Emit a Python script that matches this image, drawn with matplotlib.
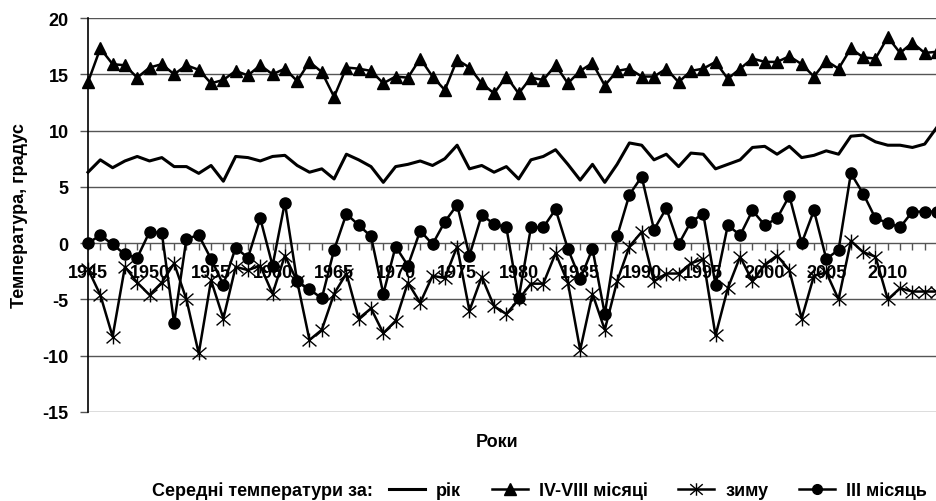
import numpy as np
import matplotlib
matplotlib.use('Agg')
import matplotlib.pyplot as plt
from matplotlib.path import Path
from matplotlib.lines import Line2D

plt.rcParams['font.family'] = ['Liberation Sans', 'DejaVu Sans']
plt.rcParams['font.weight'] = 'bold'
plt.rcParams['axes.unicode_minus'] = False

years = list(range(1945, 2015))

# середня за рік
rik = [6.3, 7.4, 6.7, 7.3, 7.7, 7.3, 7.6, 6.8, 6.8, 6.2,
       6.9, 5.5, 7.7, 7.6, 7.3, 7.7, 7.8, 6.9, 6.3, 6.6,
       5.7, 7.9, 7.4, 6.8, 5.4, 6.8, 7.0, 7.3, 6.9, 7.5,
       8.7, 6.6, 6.9, 6.3, 6.8, 5.7, 7.4, 7.7, 8.3, 7.0,
       5.6, 7.0, 5.4, 7.0, 8.9, 8.7, 7.4, 7.9, 6.8, 8.0,
       7.9, 6.6, 7.0, 7.4, 8.5, 8.6, 7.9, 8.6, 7.6, 7.8,
       8.2, 7.9, 9.5, 9.6, 9.0, 8.7, 8.7, 8.5, 8.8, 10.3]

# IV-VIII місяці
lito = [14.3, 17.3, 15.9, 15.8, 14.7, 15.6, 15.9, 15.0, 15.8, 15.4,
        14.2, 14.5, 15.3, 14.9, 15.8, 15.0, 15.5, 14.4, 16.1, 15.2,
        13.0, 15.6, 15.5, 15.3, 14.2, 14.8, 14.7, 16.4, 14.8, 13.6,
        16.3, 15.6, 14.2, 13.3, 14.8, 13.3, 14.7, 14.5, 15.8, 14.2,
        15.3, 16.0, 14.0, 15.3, 15.5, 14.8, 14.8, 15.5, 14.3, 15.3,
        15.5, 16.1, 14.6, 15.5, 16.4, 16.1, 16.1, 16.6, 15.9, 14.8,
        16.2, 15.5, 17.3, 16.5, 16.4, 18.3, 16.9, 17.8, 16.9, 17.0]

# зима
zyma = [-2.3, -4.6, -8.3, -2.1, -3.5, -4.6, -3.5, -1.8, -5.0, -9.8,
        -3.3, -6.7, -2.1, -2.4, -2.0, -4.5, -1.1, -3.4, -8.6, -7.7,
        -4.5, -2.7, -6.7, -5.8, -8.0, -6.9, -3.5, -5.3, -2.9, -3.1,
        -0.3, -6.0, -3.0, -5.6, -6.3, -5.0, -3.6, -3.6, -0.9, -3.5,
        -9.5, -4.5, -7.7, -3.4, -0.3, 1.0, -3.4, -2.7, -2.7, -1.8,
        -1.4, -8.2, -4.0, -1.2, -3.4, -1.9, -1.1, -2.4, -6.7, -2.9,
        -2.6, -5.0, 0.2, -0.8, -1.2, -5.0, -4.0, -4.3, -4.3, -4.3]

# III місяць
berezen = [0.0, 0.7, -0.1, -1.0, -1.3, 1.0, 0.9, -7.1, 0.4, 0.7,
           -1.4, -3.7, -0.4, -1.3, 2.2, -2.0, 3.6, -3.4, -4.1, -4.9,
           -0.6, 2.6, 1.6, 0.6, -4.5, -0.3, -2.0, 1.1, -0.1, 1.9,
           3.4, -1.1, 2.5, 1.7, 1.4, -4.9, 1.4, 1.4, 3.0, -0.5,
           -3.2, -0.5, -6.3, 0.6, 4.3, 5.9, 1.2, 3.1, -0.1, 1.9,
           2.6, -3.7, 1.6, 0.7, 2.9, 1.6, 2.2, 4.2, 0.0, 2.9,
           -1.4, -0.6, 6.2, 4.4, 2.2, 1.8, 1.4, 2.8, 2.8, 2.8]

# маркер "зірочка" як в Excel
star = Path([(-1, -0.85), (1, 0.85), (-1, 0.85), (1, -0.85), (0, -1), (0, 1)],
            [Path.MOVETO, Path.LINETO, Path.MOVETO, Path.LINETO, Path.MOVETO, Path.LINETO])

FS = 13

fig = plt.figure(figsize=(9.37, 5.02), dpi=100)
ax = fig.add_axes([88/937, 1-413/502, 1-88/937, (413-19)/502])

ax.plot(years, rik, color='black', lw=2.2, clip_on=False, zorder=3)
ax.plot(years, lito, color='black', lw=1.8, marker='^', ms=9, clip_on=False, zorder=3)
ax.plot(years, zyma, color='black', lw=1.8, marker=star, ms=10, mew=1.0,
        mfc='none', clip_on=False, zorder=3)
ax.plot(years, berezen, color='black', lw=1.8, marker='o', ms=8, clip_on=False, zorder=3)

ax.set_xlim(1945, 1945 + (937-88)/12.35)
ax.set_ylim(-15, 20)
ax.set_yticks(range(-15, 21, 5))
for v in range(-15, 21, 5):
    if v != 0:
        ax.axhline(v, color='#555555', lw=1.0, zorder=1)

ax.spines['top'].set_visible(False)
ax.spines['right'].set_visible(False)
ax.spines['left'].set_color('black')
ax.spines['left'].set_linewidth(1.2)
ax.spines['bottom'].set_position(('data', 0))
ax.spines['bottom'].set_color('#555555')
ax.spines['bottom'].set_linewidth(1.0)

ax.set_xticks(years)
ax.set_xticklabels([str(y) if y % 5 == 0 else '' for y in years])
ax.tick_params(axis='x', direction='out', length=5, width=1, color='#555555',
               labelsize=FS, pad=10)
ax.tick_params(axis='y', direction='out', length=6, width=1, color='#555555',
               labelsize=FS, pad=8)
for lab in ax.get_xticklabels() + ax.get_yticklabels():
    lab.set_fontweight('bold')

fig.text(20/937, 1-216/502, 'Температура, градус', rotation=90, ha='center',
         va='center', fontsize=FS, fontweight='bold')
fig.text(497/937, 1-443/502, 'Роки', ha='center', va='center',
         fontsize=FS, fontweight='bold')

t = fig.text(152/937, 1-491/502, 'Середні температури за:', ha='left', va='center',
             fontsize=FS, fontweight='bold')
fig.canvas.draw()
bb = t.get_window_extent()
handles = [
    Line2D([], [], color='black', lw=2.2),
    Line2D([], [], color='black', lw=1.8, marker='^', ms=8),
    Line2D([], [], color='black', lw=1.8, marker=star, ms=9, mfc='none', mew=1.0),
    Line2D([], [], color='black', lw=1.8, marker='o', ms=7),
]
labels = ['рік', 'IV-VIII місяці', 'зиму', 'III місяць']
leg = fig.legend(handles, labels, loc='center left',
                 bbox_to_anchor=((bb.x1 + 16) / 937, 1-491/502),
                 ncol=4, frameon=False, handlelength=2.0, handletextpad=0.6,
                 columnspacing=1.7, prop={'size': FS, 'weight': 'bold'},
                 borderaxespad=0, borderpad=0)

fig.savefig('out.png', dpi=100)
